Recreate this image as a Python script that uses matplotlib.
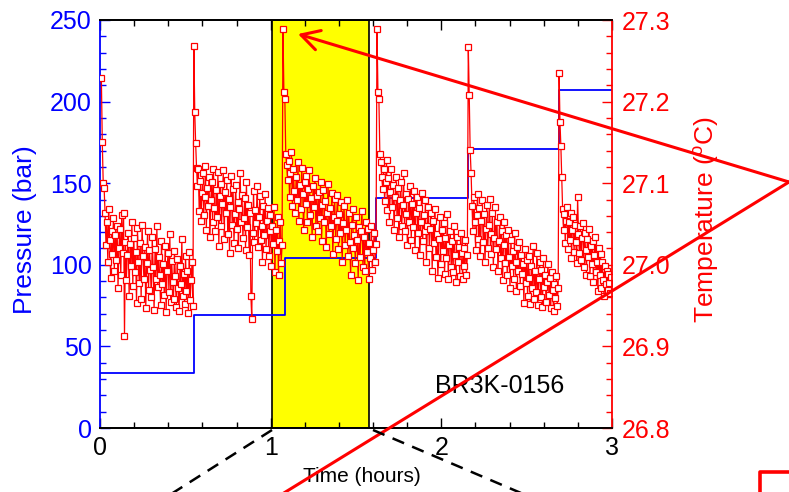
import matplotlib
matplotlib.use('Agg')
import matplotlib.pyplot as plt
import numpy as np
from matplotlib.ticker import MultipleLocator, FormatStrFormatter

plt.rcParams['font.family'] = ['Liberation Sans', 'DejaVu Sans']
plt.rcParams['mathtext.fontset'] = 'custom'
plt.rcParams['mathtext.rm'] = 'Liberation Sans'

# pressure steps (bar)
p_time = [0.0, 0.55, 1.085, 1.62, 2.158, 2.69, 3.0]
p_val = [34, 69, 104, 141, 171, 207, 207]

# temperature (degC), one list per pressure step
seg_edges = [0.008, 0.55, 1.072, 1.623, 2.158, 2.69, 3.0]
temp_a = [27.229, 27.150, 27.100, 27.094, 27.063, 27.024, 27.052, 27.003, 27.068, 27.031, 26.984, 27.042,
          27.013, 27.057, 26.993, 27.036, 27.006, 27.048, 26.972, 27.021, 27.044, 26.987, 27.061, 27.015,
          27.064, 26.913, 27.028, 26.981, 27.012, 27.039, 26.962, 27.025, 26.998, 27.053, 26.974, 27.033,
          26.991, 27.016, 26.953, 27.045, 27.004, 26.978, 27.027, 26.958, 27.049, 27.011, 26.983, 27.022,
          26.947, 27.002, 27.041, 26.969, 27.018, 26.994, 26.961, 27.034, 26.997, 26.944, 27.019, 26.982,
          27.047, 26.973, 27.009, 26.988, 26.951, 27.029, 26.976, 27.001, 26.963, 27.023, 26.942, 26.992,
          27.014, 26.967, 27.038, 26.954, 27.005, 26.979, 26.958, 27.017, 26.986, 26.948, 27.007, 26.971,
          26.943, 26.999, 26.977, 27.032, 26.962, 26.989, 26.952, 27.011, 26.968, 26.993, 26.941, 27.016,
          26.957, 26.981, 27.003, 26.949]
temp_b = [27.268, 27.187, 27.149, 27.119, 27.097, 27.118, 27.066, 27.103, 27.054, 27.088, 27.112, 27.061,
          27.083, 27.121, 27.043, 27.094, 27.072, 27.108, 27.034, 27.079, 27.101, 27.052, 27.117, 27.069,
          27.041, 27.092, 27.058, 27.114, 27.023, 27.084, 27.099, 27.047, 27.074, 27.116, 27.032, 27.089,
          27.063, 27.104, 27.038, 27.081, 27.014, 27.071, 27.109, 27.049, 27.093, 27.027, 27.062, 27.098,
          27.044, 27.077, 27.021, 27.068, 27.113, 27.053, 27.086, 27.033, 27.057, 27.082, 27.018, 27.102,
          27.046, 27.073, 27.012, 27.064, 26.962, 26.934, 27.039, 27.091, 27.028, 27.067, 27.051, 27.096,
          27.022, 27.059, 27.084, 27.031, 27.048, 27.004, 27.072, 27.037, 27.087, 27.019, 27.054, 27.069,
          27.011, 27.042, 27.061, 26.998, 27.047, 27.026, 27.071, 26.991, 27.043, 27.017, 27.058, 26.987,
          27.029, 27.052, 27.002, 27.024]
temp_c = [27.289, 27.212, 27.203, 27.136, 27.122, 27.104, 27.127, 27.083, 27.112, 27.138, 27.072, 27.118,
          27.091, 27.063, 27.107, 27.079, 27.126, 27.054, 27.098, 27.068, 27.119, 27.087, 27.043, 27.102,
          27.074, 27.109, 27.052, 27.093, 27.116, 27.061, 27.082, 27.034, 27.097, 27.071, 27.106, 27.048,
          27.084, 27.041, 27.089, 27.057, 27.101, 27.029, 27.073, 27.092, 27.053, 27.078, 27.022, 27.064,
          27.099, 27.038, 27.069, 27.047, 27.088, 27.013, 27.058, 27.081, 27.032, 27.054, 27.086, 27.019,
          27.062, 27.039, 27.077, 27.004, 27.051, 27.072, 27.024, 27.043, 27.079, 27.011, 27.063, 27.028,
          26.988, 27.049, 27.068, 27.021, 27.037, 27.002, 27.058, 27.031, 26.981, 27.046, 27.009, 27.041,
          27.066, 26.997, 27.034, 26.992, 27.052, 27.016, 27.044, 26.983, 27.027, 27.008, 27.048, 26.994,
          27.018, 27.039, 27.003, 27.026]
temp_d = [27.289, 27.212, 27.203, 27.136, 27.126, 27.107, 27.093, 27.118, 27.078, 27.102, 27.129, 27.067,
          27.106, 27.052, 27.089, 27.117, 27.071, 27.098, 27.043, 27.083, 27.108, 27.057, 27.094, 27.034,
          27.079, 27.101, 27.048, 27.073, 27.112, 27.041, 27.087, 27.062, 27.024, 27.081, 27.053, 27.096,
          27.031, 27.074, 27.046, 27.091, 27.018, 27.064, 27.083, 27.039, 27.069, 27.012, 27.052, 27.088,
          27.029, 27.061, 27.042, 27.079, 27.003, 27.048, 27.071, 27.021, 27.044, 27.063, 26.993, 27.054,
          27.027, 27.068, 27.009, 27.038, 26.984, 27.032, 27.059, 27.001, 27.043, 27.017, 27.051, 26.989,
          27.033, 27.008, 27.062, 26.982, 27.024, 27.041, 26.997, 27.029, 26.991, 27.047, 27.012, 26.979,
          27.034, 27.004, 27.022, 26.986, 27.039, 27.014, 26.983, 27.021, 26.998, 27.031, 26.988, 27.012]
temp_e = [27.267, 27.208, 27.141, 27.113, 27.072, 27.041, 27.083, 27.052, 27.018, 27.061, 27.087, 27.032,
          27.069, 27.011, 27.054, 27.079, 27.028, 27.062, 27.003, 27.044, 27.073, 27.021, 27.049, 27.081,
          27.013, 27.038, 27.064, 26.997, 27.033, 27.071, 27.019, 27.052, 26.992, 27.029, 27.058, 27.008,
          27.042, 26.981, 27.024, 27.053, 27.002, 27.036, 26.988, 27.043, 27.009, 26.972, 27.031, 26.998,
          27.017, 26.983, 27.039, 27.004, 26.968, 27.022, 26.993, 27.028, 26.974, 27.012, 26.989, 27.001,
          26.953, 27.019, 26.978, 27.006, 26.962, 27.011, 26.984, 26.952, 26.999, 26.971, 27.023, 26.958,
          26.992, 26.967, 27.014, 26.951, 26.982, 27.003, 26.961, 26.994, 26.948, 27.008, 26.973, 26.987,
          26.954, 26.979, 27.001, 26.963, 26.984, 26.947, 26.991, 26.969, 26.943, 26.977, 26.959, 26.986,
          26.949, 26.972]
temp_f = [27.235, 27.175, 27.146, 27.108, 27.068, 27.043, 27.062, 27.027, 27.054, 27.071, 27.019, 27.052,
          27.031, 27.064, 27.008, 27.043, 27.058, 27.016, 27.049, 27.028, 27.002, 27.083, 27.038, 27.014,
          27.047, 27.006, 27.033, 27.051, 26.997, 27.039, 27.018, 26.988, 27.032, 27.009, 27.044, 26.986,
          27.023, 27.001, 27.029, 26.979, 27.012, 27.034, 26.991, 27.004, 26.968, 27.021, 26.987, 27.013,
          26.972, 27.003, 26.981, 26.962, 26.998, 26.977, 26.993, 26.969, 26.989, 26.978, 26.966, 26.985]
segments = [temp_a, temp_b, temp_c, temp_d, temp_e, temp_f]

t_time, t_val = [], []
for i, seg in enumerate(segments):
    t_time.extend(np.linspace(seg_edges[i], seg_edges[i + 1], len(seg), endpoint=False))
    t_val.extend(seg)

fig = plt.figure(figsize=(7.89, 4.92), dpi=100)
ax1 = fig.add_axes([100 / 789, 1 - 428 / 492, 512 / 789, 408 / 492])
ax2 = ax1.twinx()

ax1.axvspan(1.007, 1.576, facecolor='yellow', edgecolor='black', lw=1.2, zorder=0)
ax1.step(p_time, p_val, where='post', color='blue', lw=1.3)
ax2.plot(t_time, t_val, '-s', color='red', mfc='white', mec='red', ms=4.2, mew=0.9, lw=0.9)

ax1.set_xlim(0, 3)
ax1.set_ylim(0, 250)
ax2.set_ylim(26.8, 27.3)

ax1.xaxis.set_major_locator(MultipleLocator(1))
ax1.xaxis.set_minor_locator(MultipleLocator(0.2))
ax1.yaxis.set_major_locator(MultipleLocator(50))
ax1.yaxis.set_minor_locator(MultipleLocator(10))
ax2.yaxis.set_major_locator(MultipleLocator(0.1))
ax2.yaxis.set_minor_locator(MultipleLocator(0.02))
ax2.yaxis.set_major_formatter(FormatStrFormatter('%.1f'))

ax1.tick_params(axis='x', which='both', direction='in', top=True, colors='black', labelsize=18, pad=6)
ax1.tick_params(axis='y', which='both', direction='in', colors='blue', labelsize=18, pad=6)
ax2.tick_params(axis='y', which='both', direction='in', colors='red', labelsize=18, pad=7)
for ax in (ax1, ax2):
    ax.tick_params(which='major', length=7, width=1)
    ax.tick_params(which='minor', length=4, width=1)

ax1.spines['left'].set_color('blue')
ax1.spines['right'].set_visible(False)
ax2.spines['left'].set_visible(False)
ax2.spines['right'].set_color('red')
for ax in (ax1, ax2):
    for s in ax.spines.values():
        s.set_linewidth(1.3)

ax1.set_ylabel('Pressure (bar)', color='blue', fontsize=19)
ax1.yaxis.set_label_coords(-0.123, 0.485)
ax2.set_ylabel('Temperature ($^{\\mathrm{o}}$C)', color='red', fontsize=19)
ax2.yaxis.set_label_coords(1.155, 0.51)
ax1.set_xlabel('Time (hours)', fontsize=15)
ax1.xaxis.set_label_coords(0.512, -0.095)

ax1.text(2.344, 25.5, 'BR3K-0156', ha='center', va='center', fontsize=18)

# overlay annotations in pixel coordinates
ov = fig.add_axes([0, 0, 1, 1], zorder=10)
ov.set_xlim(0, 789)
ov.set_ylim(492, 0)
ov.axis('off')
ov.patch.set_alpha(0)
ov.plot([789, 279], [182, 496], color='red', lw=2.2)
ov.annotate('', xy=(298, 34), xytext=(789, 182),
            arrowprops=dict(arrowstyle='->,head_length=0.65,head_width=0.36', mutation_scale=20,
                            color='red', lw=2.2, shrinkA=0, shrinkB=0))
ov.plot([760, 760, 795], [500, 472, 472], color='red', lw=2.6)
ov.plot([272, 168], [430, 496], color='black', lw=1.8, dashes=(5, 3.5))
ov.plot([373, 528], [430, 496], color='black', lw=1.8, dashes=(5, 3.5))

fig.savefig('out.png', dpi=100)
